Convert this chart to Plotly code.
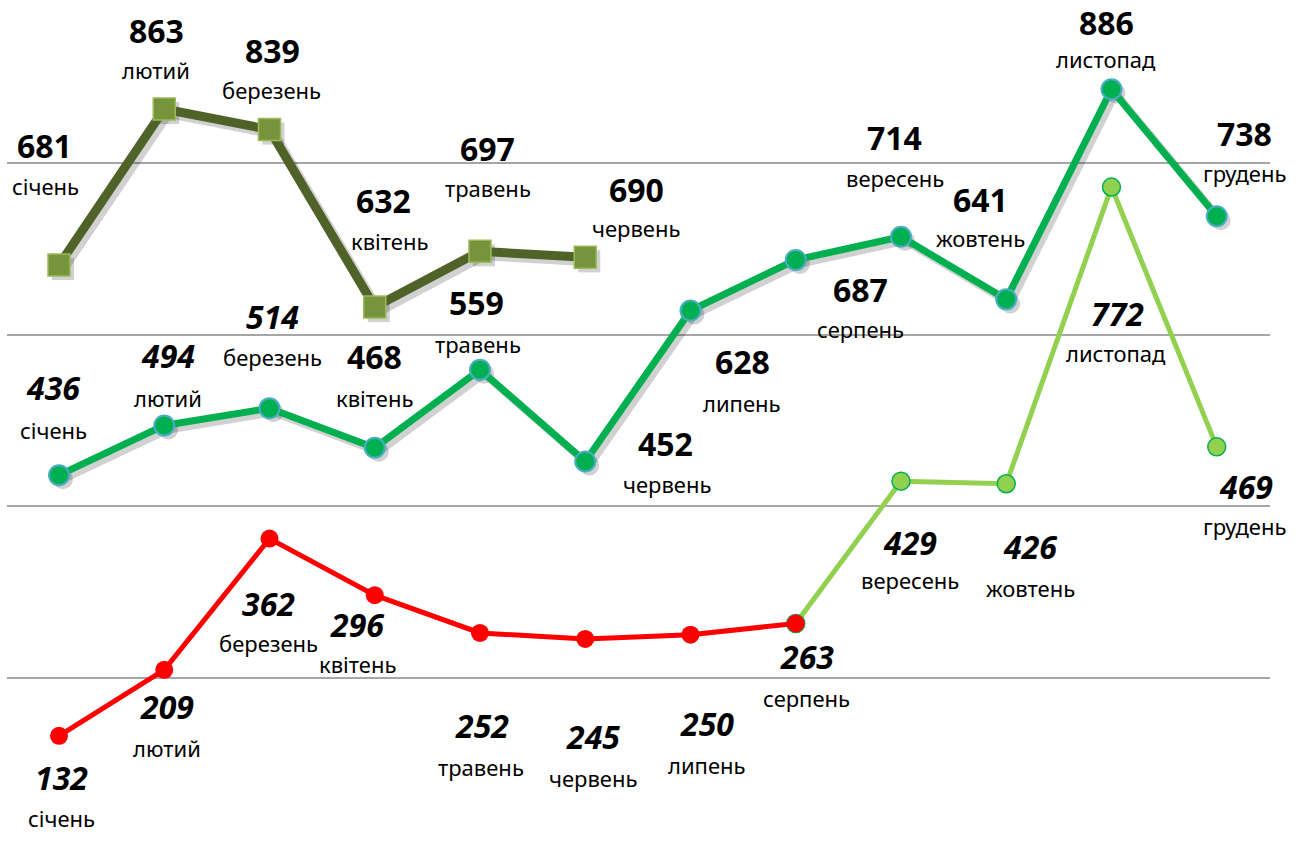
import plotly.graph_objects as go

months = ["січень", "лютий", "березень", "квітень", "травень", "червень",
          "липень", "серпень", "вересень", "жовтень", "листопад", "грудень"]

# series 1: dark olive, Jan-Jun
s1_months = months[:6]
s1_values = [681, 863, 839, 632, 697, 690]
# series 2: green, Jan-Dec
s2_months = months
s2_values = [436, 494, 514, 468, 559, 452, 628, 687, 714, 641, 886, 738]
# series 3: red, Jan-Aug
s3_months = months[:8]
s3_values = [132, 209, 362, 296, 252, 245, 250, 263]
# series 4: light green, Aug-Dec
s4_months = months[7:]
s4_values = [263, 429, 426, 772, 469]

# label offsets in pixels (dx, dy up) for value label and month label
s1_val_off = [(-14, 120), (-8, 79), (3, 79), (9, 107), (8, 103), (51, 68)]
s1_mon_off = [(-13, 79), (-8, 39), (2, 40), (15, 66), (8, 63), (51, 29)]
s2_val_off = [(-5, 88), (4, 70), (3, 92), (0, 91), (-3, 67), (80, 18),
              (52, -51), (65, -30), (-6, 99), (-26, 100), (-5, 67), (28, 83)]
s2_mon_off = [(-5, 45), (4, 27), (3, 51), (0, 50), (-2, 26), (82, -23),
              (52, -92), (65, -69), (-6, 59), (-26, 61), (-5, 30), (28, 43)]
s2_italic = [True, True, True] + [False] * 9
s3_val_off = [(3, -42), (3, -37), (-1, -65), (-17, -29), (2, -93), (8, -98), (17, -89), (11, -33)]
s3_mon_off = [(3, -82), (3, -78), (-1, -104), (-17, -69), (1, -134), (8, -139), (17, -130), (11, -74)]
s4_val_off = [None, (9, -61), (24, -63), (6, -126), (29, -40)]
s4_mon_off = [None, (9, -99), (24, -104), (5, -166), (28, -79)]

FONT = "Noto Sans"
VAL_SIZE = 32
MON_SIZE = 22

# geometry (page body margin removed in post_script)
W, H = 1306, 845
L, R, T, B = 7, 36, 0, 0
PW, PH = W - L - R, H - T - B
XR = [-0.494, -0.494 + PW / 105.25]
YR = [4.7, 4.7 + PH / 0.8575]
px_x = (XR[1] - XR[0]) / PW
px_y = (YR[1] - YR[0]) / PH
SH = 4  # shadow offset pixels

fig = go.Figure()

shadow = "rgba(0,0,0,0.18)"
# shadows on base axes (shifted ranges)
fig.add_trace(go.Scatter(x=s1_months, y=s1_values, mode="lines+markers",
                         line=dict(color=shadow, width=10),
                         marker=dict(symbol="square", size=22, color=shadow),
                         xaxis="x", yaxis="y", hoverinfo="skip", showlegend=False))
fig.add_trace(go.Scatter(x=s2_months, y=s2_values, mode="lines+markers",
                         line=dict(color=shadow, width=8),
                         marker=dict(symbol="circle", size=20, color=shadow),
                         xaxis="x", yaxis="y", hoverinfo="skip", showlegend=False))

# main traces on overlay axes
fig.add_trace(go.Scatter(x=s1_months, y=s1_values, mode="lines+markers",
                         line=dict(color="#4f6228", width=9),
                         marker=dict(symbol="square", size=22, color="#77933c",
                                     line=dict(color="#9bbb59", width=1.5)),
                         xaxis="x2", yaxis="y2", showlegend=False))
fig.add_trace(go.Scatter(x=s2_months, y=s2_values, mode="lines+markers",
                         line=dict(color="#00b050", width=7),
                         marker=dict(symbol="circle", size=20, color="#00b050",
                                     line=dict(color="#4bacc6", width=2)),
                         xaxis="x2", yaxis="y2", showlegend=False))
fig.add_trace(go.Scatter(x=s4_months, y=s4_values, mode="lines+markers",
                         line=dict(color="#92d050", width=5),
                         marker=dict(symbol="circle", size=18, color="#92d050",
                                     line=dict(color="#00b050", width=1.5)),
                         xaxis="x2", yaxis="y2", showlegend=False))
fig.add_trace(go.Scatter(x=s3_months, y=s3_values, mode="lines+markers",
                         line=dict(color="#ff0000", width=5),
                         marker=dict(symbol="circle", size=18, color="#ff0000"),
                         xaxis="x2", yaxis="y2", showlegend=False))


def add_labels(mlist, vals, voffs, moffs, italic):
    for i, (m, v) in enumerate(zip(mlist, vals)):
        if voffs[i] is None:
            continue
        it = italic[i] if isinstance(italic, list) else italic
        txt = f"<b>{v}</b>"
        if it:
            txt = f"<i>{txt}</i>"
        dx, dy = voffs[i]
        fig.add_annotation(x=m, y=v, xref="x2", yref="y2", text=txt, showarrow=False,
                           xanchor="center", yanchor="middle", xshift=dx, yshift=dy,
                           font=dict(family=FONT, size=VAL_SIZE, color="#000000"))
        dx, dy = moffs[i]
        fig.add_annotation(x=m, y=v, xref="x2", yref="y2", text=m, showarrow=False,
                           xanchor="center", yanchor="middle", xshift=dx, yshift=dy,
                           font=dict(family=FONT, size=MON_SIZE, color="#000000"))


add_labels(s1_months, s1_values, s1_val_off, s1_mon_off, False)
add_labels(s2_months, s2_values, s2_val_off, s2_mon_off, s2_italic)
add_labels(s3_months, s3_values, s3_val_off, s3_mon_off, True)
add_labels(s4_months, s4_values, s4_val_off, s4_mon_off, True)

hidden = dict(showticklabels=False, ticks="", showline=False, zeroline=False)
fig.update_layout(
    width=W, height=H,
    margin=dict(l=L, r=R, t=T, b=B, pad=0),
    paper_bgcolor="white", plot_bgcolor="white",
    showlegend=False,
    hovermode=False,
    xaxis=dict(type="category", categoryorder="array", categoryarray=months,
               range=[XR[0] - SH * px_x, XR[1] - SH * px_x], showgrid=False, **hidden),
    yaxis=dict(range=[YR[0] + SH * px_y, YR[1] + SH * px_y], showgrid=False, **hidden),
    xaxis2=dict(type="category", categoryorder="array", categoryarray=months,
                range=XR, overlaying="x", showgrid=False, **hidden),
    yaxis2=dict(range=YR, overlaying="y", showgrid=True, gridcolor="#a6a6a6",
                gridwidth=2, tick0=0, dtick=200, **hidden),
)

fig.write_html("out.html",
               config={"displayModeBar": False, "staticPlot": True},
               post_script="document.body.style.margin='0';document.body.style.overflow='hidden';")
